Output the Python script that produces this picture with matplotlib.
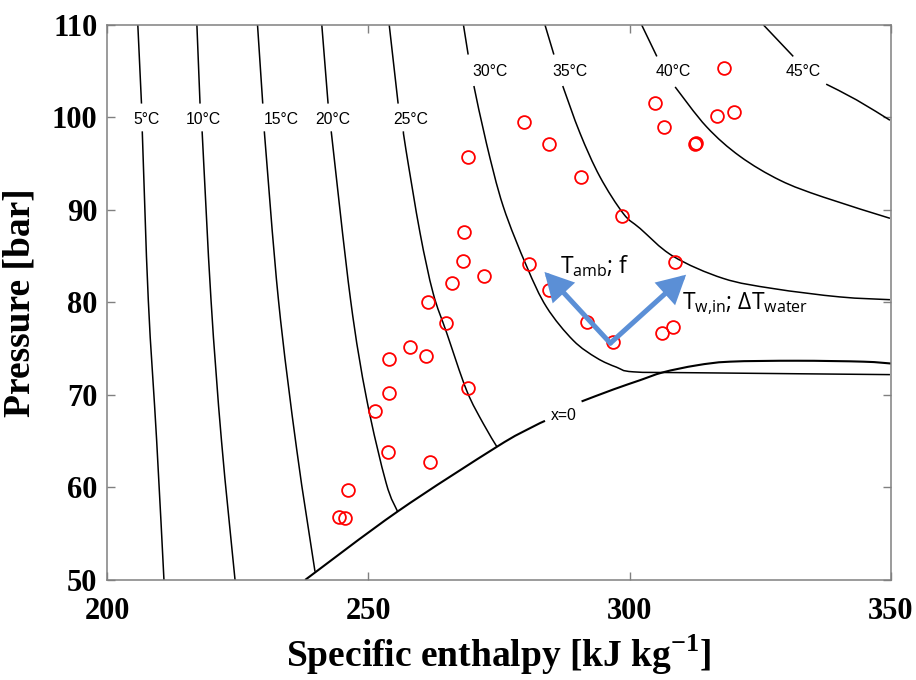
import numpy as np
import matplotlib
matplotlib.use("Agg")
import matplotlib.pyplot as plt
from matplotlib.path import Path
from matplotlib.patches import PathPatch

nan = np.nan

# CO2 isotherms in the pressure-enthalpy plane (h in kJ/kg, p in bar).
# A NaN opens the gap where the isotherm's label sits.
iso_05_h = [205.9, 206.6, nan, 206.75, 207.9, 209.5, 210.9]
iso_05_p = [110.0, 101.5, nan, 98.5, 80.3, 65.1, 50.0]

iso_10_h = [217.2, 217.8, nan, 218.2, 219.9, 221.9, 224.5]
iso_10_p = [110.0, 101.5, nan, 98.5, 80.3, 65.1, 50.0]

iso_15_h = [228.8, 229.8, nan, 230.1, 232.8, 236.3, 239.8]
iso_15_p = [110.0, 101.5, nan, 98.5, 80.3, 64.1, 50.9]

iso_20_h = [241.1, 242.3, nan, 242.9, 246.6, 249.7, 253.4, 255.6]
iso_20_p = [110.0, 101.5, nan, 98.5, 80.3, 69.5, 60.5, 57.4]

iso_25_h = [254.0, 255.7, nan, 256.7, 257.2, 259.9, 262.4, 265.0, 268.8, 272.0, 274.6]
iso_25_p = [110.0, 101.5, nan, 98.5, 96.5, 87.5, 81.0, 76.7, 70.5, 66.9, 64.4]

iso_30_h = [268.2, 269.1, nan, 270.2, 272.6, 275.8, 280.3, 284.1, 289.2, 293.7, 297.5,
            300.7, 312.8, 349.8]
iso_30_p = [110.0, 106.8, nan, 103.4, 97.2, 90.4, 83.9, 79.5, 75.9, 74.0, 73.0,
            72.5, 72.4, 72.2]

iso_35_h = [283.8, 285.5, nan, 287.2, 290.5, 294.3, 298.8, 302.0, 308.3, 317.9, 327.5,
            340.2, 349.8]
iso_35_p = [110.0, 106.8, nan, 103.4, 98.3, 93.6, 89.6, 88.0, 85.0, 82.6, 81.5,
            80.6, 80.3]

iso_40_h = [302.3, 305.2, nan, 308.7, 314.7, 321.1, 328.8, 337.0, 349.8]
iso_40_p = [110.0, 106.6, nan, 103.3, 99.0, 95.8, 93.2, 91.4, 89.1]

iso_45_h = [325.6, 331.3, nan, 337.6, 343.4, 349.8]
iso_45_p = [110.0, 106.6, nan, 103.6, 101.9, 99.7]

# Saturated-liquid line (x = 0)
sat_h = [237.9, 255.6, 274.6, 280.9, 283.8, nan, 290.8, 296.9, 302.0, 306.4, 312.8,
         319.2, 332.0, 344.7, 350.0]
sat_p = [50.0, 57.4, 64.4, 66.4, 67.2, nan, 69.3, 70.6, 71.6, 72.45, 73.2,
         73.6, 73.7, 73.6, 73.4]

iso_labels = ["5°C", "10°C", "15°C", "20°C", "25°C", "30°C", "35°C", "40°C", "45°C"]

# Gas-cooler outlet states from the tests
meas_h = [318.1, 304.8, 320.0, 316.8, 279.7, 306.6, 284.6, 312.5, 312.7, 269.0, 290.6,
          298.5, 268.4, 268.1, 308.7, 280.7, 272.2, 266.0, 284.6, 261.5, 291.9, 264.8,
          306.2, 308.2, 296.9, 258.0, 261.0, 253.9, 269.1, 253.9, 251.2, 253.8, 261.8,
          246.2, 244.4, 245.5]
meas_p = [105.4, 101.6, 100.6, 100.2, 99.5, 99.0, 97.1, 97.1, 97.2, 95.7, 93.6,
          89.3, 87.6, 84.5, 84.4, 84.2, 82.9, 82.1, 81.3, 80.0, 77.9, 77.8,
          76.7, 77.4, 75.7, 75.2, 74.2, 73.9, 70.7, 70.2, 68.3, 63.8, 62.8,
          59.7, 56.8, 56.7]

# Trend arrows (from the common origin towards each tip)
arrow_origin = (296.3, 75.6)
arrow_tip_amb = (283.7, 83.3)
arrow_tip_water = (310.8, 83.0)


def smooth_path(h, p):
    """Cubic (Catmull-Rom) path through the given points; NaNs split the curve."""
    h = np.asarray(h, float)
    p = np.asarray(p, float)
    verts, codes = [], []
    breaks = np.where(np.isnan(h))[0]
    starts = np.r_[0, breaks + 1]
    ends = np.r_[breaks, len(h)]
    for s, e in zip(starts, ends):
        pts = np.column_stack([h[s:e], p[s:e]])
        n = len(pts)
        if n < 2:
            continue
        ext = np.vstack([pts[0], pts, pts[-1]])
        verts.append(pts[0])
        codes.append(Path.MOVETO)
        for i in range(n - 1):
            p0, p1, p2, p3 = ext[i], ext[i + 1], ext[i + 2], ext[i + 3]
            verts += [p1 + (p2 - p0) / 6.0, p2 - (p3 - p1) / 6.0, p2]
            codes += [Path.CURVE4] * 3
    return Path(np.array(verts), codes)


plt.rcParams["mathtext.fontset"] = "custom"
plt.rcParams["mathtext.rm"] = "Open Sans"
plt.rcParams["mathtext.it"] = "Open Sans:italic"
plt.rcParams["mathtext.bf"] = "Liberation Serif:bold"

fig = plt.figure(figsize=(9.16, 6.80), dpi=100)
ax = fig.add_axes([0.1168, 0.1471, 0.8559, 0.8162])

iso_curves = [
    (iso_05_h, iso_05_p), (iso_10_h, iso_10_p), (iso_15_h, iso_15_p),
    (iso_20_h, iso_20_p), (iso_25_h, iso_25_p), (iso_30_h, iso_30_p),
    (iso_35_h, iso_35_p), (iso_40_h, iso_40_p), (iso_45_h, iso_45_p),
]
for h, p in iso_curves:
    ax.add_patch(PathPatch(smooth_path(h, p), facecolor="none", edgecolor="black",
                           lw=1.1, capstyle="butt", zorder=2))
ax.add_patch(PathPatch(smooth_path(sat_h, sat_p), facecolor="none", edgecolor="black",
                       lw=1.5, capstyle="butt", zorder=2))

# Isotherm labels
label_xy = [(207.5, 99.8), (218.4, 99.8), (233.3, 99.8), (243.1, 99.8), (258.2, 99.8),
            (273.2, 104.95), (288.5, 104.95), (308.3, 104.95), (333.2, 104.95)]
for text, (lx, ly) in zip(iso_labels, label_xy):
    ax.text(lx, ly, text, ha="center", va="center", fontsize=11.3,
            family="Liberation Sans", color="black", zorder=3)
ax.text(287.4, 67.8, "x=0", ha="center", va="center", fontsize=11.3,
        family="Liberation Sans", color="black", zorder=3)

ax.plot(meas_h, meas_p, linestyle="none", marker="o", markersize=9.2,
        markerfacecolor="none", markeredgecolor="#ff0000", markeredgewidth=1.3, zorder=4)

arrow_color = "#5b8fd6"
for tip in (arrow_tip_amb, arrow_tip_water):
    ax.annotate("", xy=tip, xytext=arrow_origin,
                arrowprops=dict(arrowstyle="-|>,head_length=0.75,head_width=0.4",
                                color=arrow_color, lw=3.6, shrinkA=0, shrinkB=0,
                                mutation_scale=20, joinstyle="miter"),
                zorder=5)

ax.text(286.6, 83.2, r"T$_{\mathrm{amb}}$; f", ha="left", va="baseline",
        fontsize=16.5, family="Open Sans", color="black", zorder=6)
ax.text(310.0, 79.3, r"T$_{\mathrm{w{,}in}}$; ΔT$_{\mathrm{water}}$", ha="left",
        va="baseline", fontsize=16.5, family="Open Sans", color="black", zorder=6)

ax.set_xlim(200, 350)
ax.set_ylim(50, 110)
ax.set_xticks([200, 250, 300, 350])
ax.set_yticks([50, 60, 70, 80, 90, 100, 110])

frame_color = "#808080"
for side in ax.spines.values():
    side.set_color(frame_color)
    side.set_linewidth(1.1)
ax.tick_params(direction="in", length=6, width=1.0, color=frame_color,
               top=True, right=True, labelsize=22)
ax.tick_params(axis="x", pad=12)
ax.tick_params(axis="y", pad=7)
for lab in ax.get_xticklabels() + ax.get_yticklabels():
    lab.set_family("Liberation Serif")
    lab.set_fontweight("bold")

ax.set_xlabel(r"Specific enthalpy [kJ kg$^{\mathbf{-1}}$]", family="Liberation Serif",
              fontweight="bold", fontsize=27, labelpad=5)
ax.set_ylabel("Pressure [bar]", family="Liberation Serif", fontweight="bold",
              fontsize=27, labelpad=10)

fig.savefig("out.png", dpi=100, facecolor="white")
